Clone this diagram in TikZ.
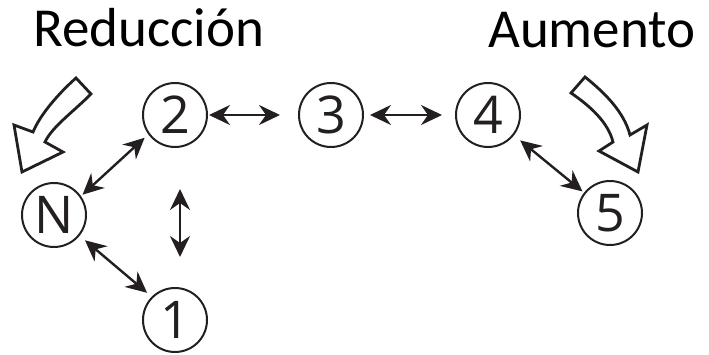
\documentclass[tikz,border=0pt]{standalone}
\usepackage{fontspec}
\setmainfont{Open Sans}
\newfontfamily\labfont{Carlito}
\usetikzlibrary{arrows.meta,calc}
\definecolor{ink}{HTML}{231F20}
\begin{document}
\begin{tikzpicture}[x=1pt,y=-1pt,
 ring/.style={circle,draw=ink,line width=2pt,minimum size=64pt,inner sep=0pt,font=\fontsize{52}{52}\selectfont,text=ink},
 dbl/.style={line width=2.4pt,draw=ink,fill=ink,arrows={Stealth[length=21pt,width=20pt,inset=7pt]-Stealth[length=21pt,width=20pt,inset=7pt]}},
 hollow/.style={draw=ink,fill=white,line width=2.8pt,line join=miter},
 title/.style={font=\labfont\fontsize{55}{55}\selectfont,anchor=base west,inner sep=0pt,text=black}]
\useasboundingbox (0,0) rectangle (709,355);
% titles
\node[title] (tr) at (33,47) {Reducción};
\node[title] (ta) at (488,48) {Aumento};
% rings
\node[ring] (N) at (54,215) {N};
\node[ring] (2) at (175,115) {2};
\node[ring] (3) at (331,115) {3};
\node[ring] (4) at (488,115) {4};
\node[ring] (5) at (610,213) {5};
\node[ring] (1) at (175,320) {1};
% connectors
\draw[dbl,shorten <=2pt,shorten >=5pt] (N.35) -- (2.216);
\draw[dbl,shorten <=7pt,shorten >=6pt] (N.-39) -- (1.135);
\draw[dbl,shorten <=1pt,shorten >=18pt] (2.east) -- (3.west);
\draw[dbl,shorten <=6pt,shorten >=13pt] (3.east) -- (4.west);
\draw[dbl,shorten <=8pt,shorten >=2pt] (4.-38) -- (5.142);
\draw[dbl] ($(2.south)+(5,41)$) -- ($(1.north)+(5,-30)$);
% hollow curved arrows
\draw[hollow] (76,78) -- (91,94) .. controls (73,112) and (52,127) .. (45,142)
  -- (63,152) -- (22,172) -- (14,125) -- (33,132)
  .. controls (40,115) and (58,94) .. cycle;
\draw[hollow] (571,93) -- (585,77) .. controls (605,93) and (624,112) .. (630,135)
  -- (647,125) -- (638,172) -- (599,151) -- (613,142)
  .. controls (608,122) and (590,106) .. cycle;
\end{tikzpicture}
\end{document}
